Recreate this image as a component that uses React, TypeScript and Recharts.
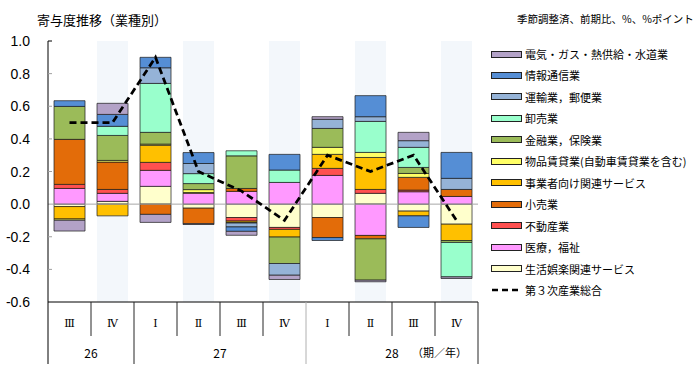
import React from 'react';
import { ComposedChart, Bar, Line, XAxis, YAxis, ReferenceLine } from 'recharts';

// ---- data ----
const quarters = ['Ⅲ', 'Ⅳ', 'Ⅰ', 'Ⅱ', 'Ⅲ', 'Ⅳ', 'Ⅰ', 'Ⅱ', 'Ⅲ', 'Ⅳ'];
const years = ['26', '26', '27', '27', '27', '27', '28', '28', '28', '28'];
const unitLabel = '（期／年）';
const yTicks = [-0.6, -0.4, -0.2, 0, 0.2, 0.4, 0.6, 0.8, 1.0];

// stacking order: bottom (first) to top (last)
const seriesKeys = ['s1', 's2', 's3', 's4', 's5', 's6', 's7', 's8', 's9', 's10', 's11'];
const seriesNames = [
  '生活娯楽関連サービス',
  '医療，福祉',
  '不動産業',
  '小売業',
  '事業者向け関連サービス',
  '物品賃貸業(自動車賃貸業を含む)',
  '金融業，保険業',
  '卸売業',
  '運輸業，郵便業',
  '情報通信業',
  '電気・ガス・熱供給・水道業',
];
const seriesColors = [
  '#ffffcc',
  '#ff99ff',
  '#ff5050',
  '#e36c09',
  '#ffc000',
  '#ffff66',
  '#9bbb59',
  '#99ffcc',
  '#95b3d7',
  '#558ed5',
  '#b3a2c7',
];
const seikatsu = [-0.015, 0.017, 0.109, -0.025, -0.082, -0.143, -0.082, 0.066, -0.043, -0.123];
const iryo = [0.096, 0.049, 0.098, 0.067, 0.078, 0.133, 0.176, -0.192, 0.076, 0.047];
const fudosan = [0.025, 0.024, 0.049, 0, -0.022, -0.012, 0.043, 0.024, 0.01, 0];
const kouri = [0.276, 0.168, -0.063, -0.095, 0.018, 0, -0.123, -0.021, 0.078, 0.043];
const jigyosha = [-0.076, -0.072, 0.105, 0.004, -0.008, -0.047, 0.086, 0.196, -0.029, -0.1];
const buppin = [-0.008, 0.01, 0.007, 0.018, -0.004, 0, 0.043, 0.031, 0.024, 0];
const kinyu = [0.202, 0.153, 0.072, 0.037, 0.2, -0.162, 0.116, -0.253, 0.037, -0.012];
const oroshi = [0, 0.056, 0.3, 0.061, 0.031, 0.076, 0, 0.19, 0.123, -0.211];
const unyu = [0, 0, 0.096, 0.062, -0.024, -0.072, 0.056, 0.029, 0.041, 0.068];
const joho = [0.035, 0.073, 0.064, 0.067, -0.027, 0.096, -0.018, 0.129, -0.071, 0.159];
const denki = [-0.066, 0.068, -0.049, -0.005, -0.024, -0.026, 0.016, -0.01, 0.051, -0.01];
const totalName = '第３次産業総合';
const total = [0.5, 0.5, 0.9, 0.2, 0.08, -0.1, 0.3, 0.2, 0.3, -0.1];

const seriesValues = [seikatsu, iryo, fudosan, kouri, jigyosha, buppin, kinyu, oroshi, unyu, joho, denki];

const data = quarters.map((q, i) => {
  const row: any = { name: `${years[i]}-${q}-${i}`, q, year: years[i], total: total[i] };
  seriesKeys.forEach((k, j) => {
    row[k] = seriesValues[j][i];
  });
  return row;
});

// ---- layout ----
const W = 700;
const H = 377;
const PLOT_LEFT = 48;
const PLOT_RIGHT = 478;
const BAND = (PLOT_RIGHT - PLOT_LEFT) / quarters.length;
const FONT = '"Noto Sans CJK JP", "Noto Sans", sans-serif';

const groupInfo = (i: number) => {
  const start = years.indexOf(years[i]);
  const n = years.filter((y) => y === years[i]).length;
  return { start, n };
};

const XTick = (props: any) => {
  const { x, y, payload } = props;
  const i = payload.index;
  const left = x - BAND / 2;
  const right = x + BAND / 2;
  const { start, n } = groupInfo(i);
  const isGroupEnd = i === start + n - 1;
  const elems: any[] = [];
  elems.push(
    <text key="q" x={x} y={y + 21} textAnchor="middle" dominantBaseline="central" fontSize={11} fontFamily='"DejaVu Serif", "Noto Sans CJK JP", serif' fill="#000">
      {quarters[i]}
    </text>
  );
  if (i === 0) {
    elems.push(<line key="l0" x1={left} x2={left} y1={y} y2={y + 62} stroke="#000" strokeWidth={1} />);
  }
  elems.push(
    <line
      key="r"
      x1={right}
      x2={right}
      y1={y}
      y2={isGroupEnd ? y + 62 : y + 34}
      stroke={isGroupEnd && i !== quarters.length - 1 && i > 2 ? '#b0b0b0' : '#262626'}
      strokeWidth={1}
    />
  );
  if (i === start) {
    const center = left + (n * BAND) / 2;
    elems.push(
      <text key="y" x={center} y={y + 50} textAnchor="middle" dominantBaseline="central" fontSize={12} fontFamily={FONT} fill="#000">
        {years[i]}
      </text>
    );
    if (start + n === quarters.length) {
      elems.push(
        <text key="u" x={center + 20} y={y + 50} textAnchor="start" dominantBaseline="central" fontSize={11} fontFamily={FONT} fill="#000">
          {unitLabel}
        </text>
      );
    }
  }
  return <g>{elems}</g>;
};

const YTick = (props: any) => {
  const { x, y, payload } = props;
  const v = Number(payload.value);
  const label = Math.abs(v) < 1e-9 ? '0.0' : v.toFixed(1);
  return (
    <g>
      <text x={x - 18} y={y} textAnchor="end" dominantBaseline="central" fontSize={14} fontFamily='"Liberation Sans", Arial, sans-serif' fill="#000">
        {label}
      </text>
      {Math.abs(v) > 1e-9 && Math.abs(v + 0.6) > 1e-9 ? (
        <line x1={x} x2={x + 4} y1={y} y2={y} stroke={v > 0.99 ? '#000' : '#a0a0a0'} strokeWidth={1} />
      ) : null}
    </g>
  );
};

const bandBg = (props: any) => {
  const { x, y, width, height, index } = props;
  if (index % 2 !== 1) return <g />;
  return <rect x={x} y={y} width={width} height={height} fill="#f3f7fb" />;
};

const legendItems = [
  ...seriesNames.map((n, i) => ({ name: n, color: seriesColors[i], line: false })).reverse(),
  { name: totalName, color: '#000', line: true },
];

export default function App() {
  return (
    <div style={{ position: 'absolute', left: 0, top: 0, width: W, height: H, background: '#fff', fontFamily: FONT }}>
      <div style={{ position: 'absolute', left: 37, top: 11, fontSize: 13, lineHeight: '18px', color: '#000', whiteSpace: 'nowrap' }}>
        寄与度推移（業種別）
      </div>
      <div style={{ position: 'absolute', left: 517, top: 11, fontSize: 10.5, lineHeight: '16px', color: '#000', whiteSpace: 'nowrap' }}>
        季節調整済、前期比、%、%ポイント
      </div>
      <ComposedChart
        width={W}
        height={H}
        data={data}
        stackOffset="sign"
        barCategoryGap="14%"
        margin={{ top: 41, right: W - PLOT_RIGHT, bottom: 13, left: 8 }}
      >
        <XAxis
          dataKey="name"
          height={62}
          interval={0}
          tickLine={false}
          tickSize={0}
          tickMargin={0}
          axisLine={{ stroke: '#000', strokeWidth: 1 }}
          tick={<XTick />}
        />
        <YAxis
          width={40}
          domain={[-0.6, 1.0]}
          ticks={yTicks}
          interval={0}
          allowDataOverflow
          tickLine={false}
          tickSize={0}
          tickMargin={0}
          axisLine={{ stroke: '#000', strokeWidth: 1 }}
          tick={<YTick />}
        />
        {seriesKeys.map((k, j) => (
          <Bar
            key={k}
            dataKey={k}
            name={seriesNames[j]}
            stackId="a"
            fill={seriesColors[j]}
            stroke="#1a1a1a"
            strokeWidth={0.7}
            isAnimationActive={false}
            background={j === 0 ? bandBg : undefined}
          />
        ))}
        <ReferenceLine y={0} stroke="#a6a6a6" strokeWidth={1} />
        <Line
          dataKey="total"
          name={totalName}
          type="linear"
          stroke="#000"
          strokeWidth={2.75}
          strokeDasharray="7 4"
          dot={false}
          activeDot={false}
          isAnimationActive={false}
        />
      </ComposedChart>
      {legendItems.map((it, i) => (
        <div
          key={it.name}
          style={{
            position: 'absolute',
            left: 491,
            top: 54 + i * 21.45 - 8,
            height: 16,
            display: 'flex',
            alignItems: 'center',
            whiteSpace: 'nowrap',
          }}
        >
          {it.line ? (
            <svg width={31} height={8} style={{ marginRight: 3 }}>
              <line x1={1} x2={30} y1={4} y2={4} stroke="#000" strokeWidth={2.5} strokeDasharray="6 4" />
            </svg>
          ) : (
            <div
              style={{
                width: 31,
                height: 7,
                boxSizing: 'border-box',
                background: it.color,
                border: '1px solid #222',
                marginRight: 3,
              }}
            />
          )}
          <span style={{ fontSize: 11, color: '#000' }}>{it.name}</span>
        </div>
      ))}
    </div>
  );
}
